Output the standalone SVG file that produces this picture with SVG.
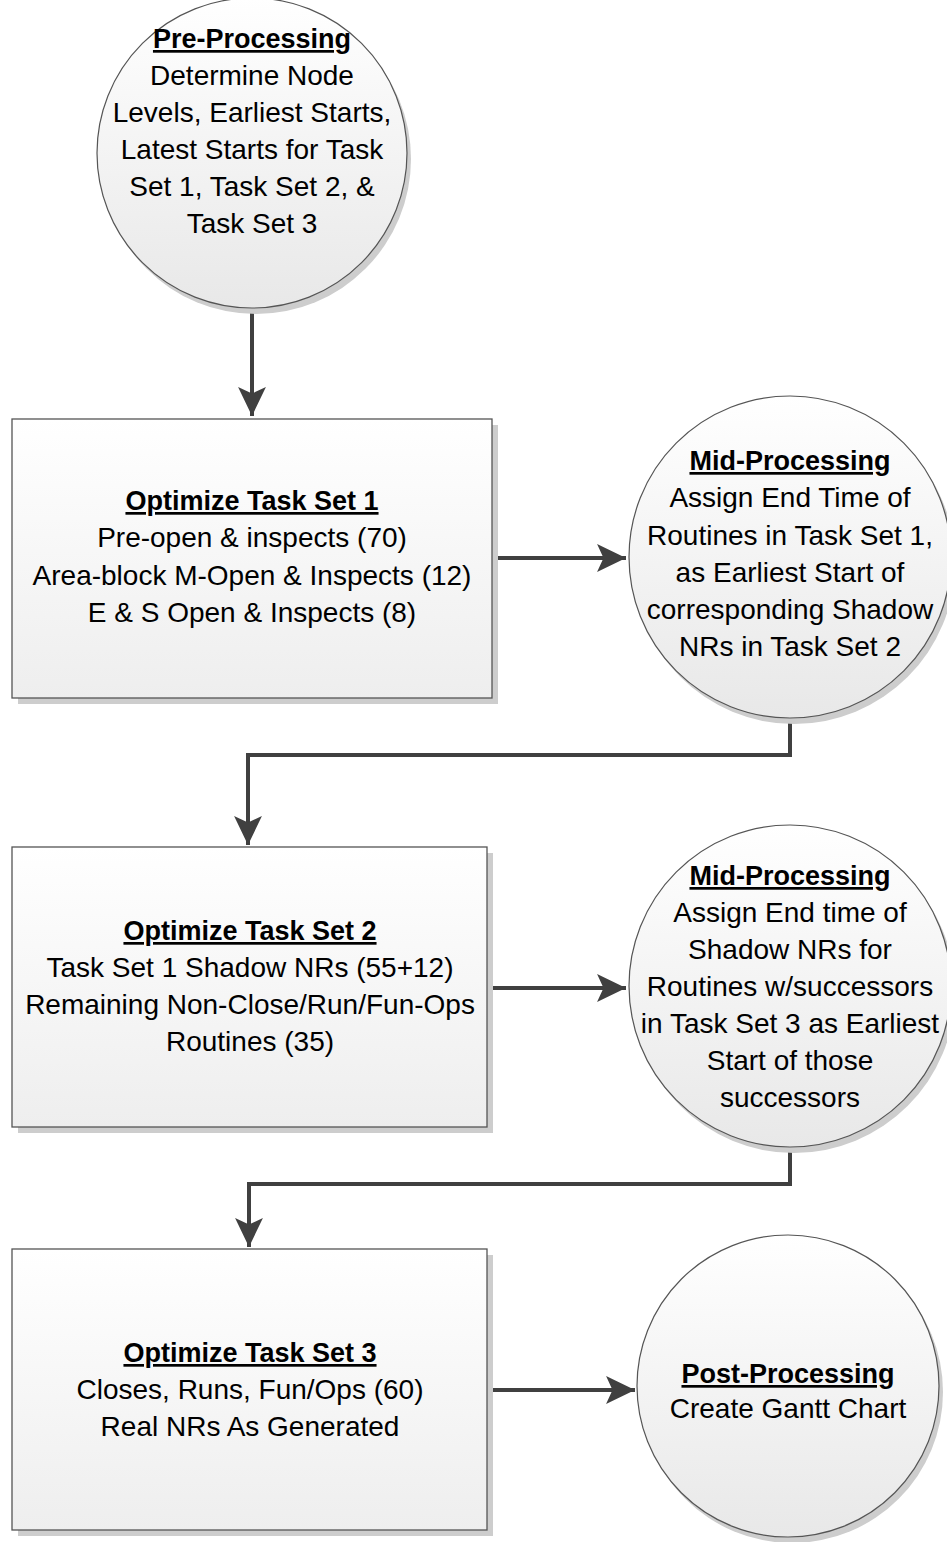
<svg xmlns="http://www.w3.org/2000/svg" width="947" height="1542" viewBox="0 0 947 1542">
  <style>
    .t { font-family: "Liberation Sans", Arial, sans-serif; font-size: 28px; fill: #000; text-anchor: middle; }
    .h { font-weight: bold; font-size: 27px; text-decoration: underline; }
    .box { fill: url(#gBox); stroke: #555; stroke-width: 1.3; }
    .circ { fill: url(#gCirc); stroke: #555; stroke-width: 1.2; }
    .shadow { fill: #cdcdcd; }
    .conn { fill: none; stroke: #404040; stroke-width: 4; }
  </style>
  <defs>
    <linearGradient id="gBox" x1="0" y1="0" x2="0" y2="1">
      <stop offset="0" stop-color="#ffffff"/>
      <stop offset="1" stop-color="#eeeeee"/>
    </linearGradient>
    <linearGradient id="gCirc" x1="0" y1="0" x2="0" y2="1">
      <stop offset="0" stop-color="#ffffff"/>
      <stop offset="1" stop-color="#e8e8e8"/>
    </linearGradient>
    <marker id="arrow" markerUnits="userSpaceOnUse" markerWidth="30" markerHeight="30" viewBox="0 0 28 28" refX="27" refY="14" orient="auto">
      <path d="M0,1 L27,14 L0,27 L6,14 Z" fill="#404040"/>
    </marker>
  </defs>

  <!-- connectors -->
  <g id="connectors">
    <path class="conn" d="M252,308 L252,416" marker-end="url(#arrow)"/>
    <path class="conn" d="M492,558 L626,558" marker-end="url(#arrow)"/>
    <path class="conn" d="M790,718 L790,755 L248,755 L248,845" marker-end="url(#arrow)"/>
    <path class="conn" d="M487,988 L626,988" marker-end="url(#arrow)"/>
    <path class="conn" d="M790,1148 L790,1184 L249,1184 L249,1247" marker-end="url(#arrow)"/>
    <path class="conn" d="M487,1390 L635,1390" marker-end="url(#arrow)"/>
  </g>

  <!-- Pre-Processing -->
  <g id="pre-processing">
    <circle class="shadow" cx="256" cy="159" r="155"/>
    <circle class="circ" cx="252" cy="153" r="155"/>
    <text class="t h" x="252" y="48">Pre-Processing</text>
    <text class="t" x="252" y="85">Determine Node</text>
    <text class="t" x="252" y="122">Levels, Earliest Starts,</text>
    <text class="t" x="252" y="159">Latest Starts for Task</text>
    <text class="t" x="252" y="196">Set 1, Task Set 2, &amp;</text>
    <text class="t" x="252" y="233">Task Set 3</text>
  </g>

  <!-- Optimize Task Set 1 -->
  <g id="task-set-1">
    <rect class="shadow" x="18" y="425" width="480" height="279"/>
    <rect class="box" x="12" y="419" width="480" height="279"/>
    <text class="t h" x="252" y="510">Optimize Task Set 1</text>
    <text class="t" x="252" y="547">Pre-open &amp; inspects (70)</text>
    <text class="t" x="252" y="585">Area-block M-Open &amp; Inspects (12)</text>
    <text class="t" x="252" y="622">E &amp; S Open &amp; Inspects (8)</text>
  </g>

  <!-- Mid-Processing 1 -->
  <g id="mid-processing-1">
    <circle class="shadow" cx="794" cy="563" r="161"/>
    <circle class="circ" cx="790" cy="557" r="161"/>
    <text class="t h" x="790" y="470">Mid-Processing</text>
    <text class="t" x="790" y="507">Assign End Time of</text>
    <text class="t" x="790" y="545">Routines in Task Set 1,</text>
    <text class="t" x="790" y="582">as Earliest Start of</text>
    <text class="t" x="790" y="619">corresponding Shadow</text>
    <text class="t" x="790" y="656">NRs in Task Set 2</text>
  </g>

  <!-- Optimize Task Set 2 -->
  <g id="task-set-2">
    <rect class="shadow" x="18" y="853" width="475" height="280"/>
    <rect class="box" x="12" y="847" width="475" height="280"/>
    <text class="t h" x="250" y="940">Optimize Task Set 2</text>
    <text class="t" x="250" y="977">Task Set 1 Shadow NRs (55+12)</text>
    <text class="t" x="250" y="1014">Remaining Non-Close/Run/Fun-Ops</text>
    <text class="t" x="250" y="1051">Routines (35)</text>
  </g>

  <!-- Mid-Processing 2 -->
  <g id="mid-processing-2">
    <circle class="shadow" cx="794" cy="992" r="161"/>
    <circle class="circ" cx="790" cy="986" r="161"/>
    <text class="t h" x="790" y="885">Mid-Processing</text>
    <text class="t" x="790" y="922">Assign End time of</text>
    <text class="t" x="790" y="959">Shadow NRs for</text>
    <text class="t" x="790" y="996">Routines w/successors</text>
    <text class="t" x="790" y="1033">in Task Set 3 as Earliest</text>
    <text class="t" x="790" y="1070">Start of those</text>
    <text class="t" x="790" y="1107">successors</text>
  </g>

  <!-- Optimize Task Set 3 -->
  <g id="task-set-3">
    <rect class="shadow" x="18" y="1255" width="475" height="281"/>
    <rect class="box" x="12" y="1249" width="475" height="281"/>
    <text class="t h" x="250" y="1362">Optimize Task Set 3</text>
    <text class="t" x="250" y="1399">Closes, Runs, Fun/Ops (60)</text>
    <text class="t" x="250" y="1436">Real NRs As Generated</text>
  </g>

  <!-- Post-Processing -->
  <g id="post-processing">
    <circle class="shadow" cx="792" cy="1392" r="151"/>
    <circle class="circ" cx="788" cy="1386" r="151"/>
    <text class="t h" x="788" y="1383">Post-Processing</text>
    <text class="t" x="788" y="1418">Create Gantt Chart</text>
  </g>
</svg>
